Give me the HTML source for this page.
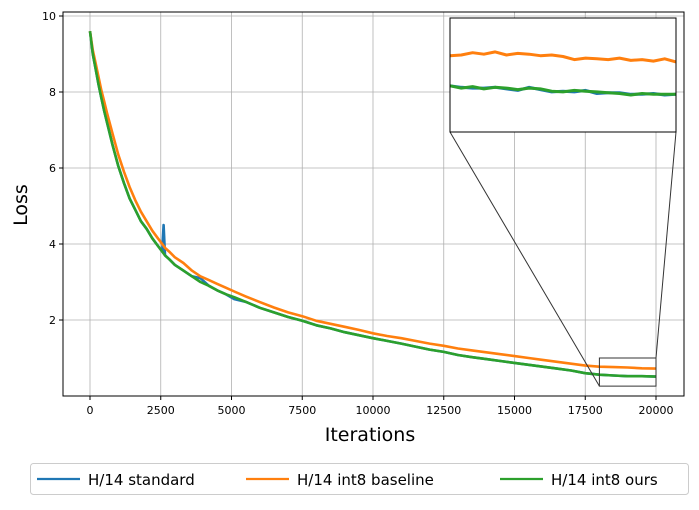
<!DOCTYPE html>
<html><head><meta charset="utf-8"><style>
body{margin:0;background:#fff;}
svg{font-family:"DejaVu Sans","Liberation Sans",sans-serif;}
</style></head><body>
<svg id="c" width="699" height="505" xmlns="http://www.w3.org/2000/svg"></svg>
<script>
const iters=[0,100,200,300,400,500,600,800,1000,1200,1400,1600,1800,2000,2200,2400,2550,2600,2650,2800,3000,3300,3600,3900,4200,4500,4800,5100,5500,6000,6500,7000,7500,8000,8500,9000,9500,10000,10500,11000,11500,12000,12500,13000,13500,14000,14500,15000,15500,16000,16500,17000,17500,18000,18500,19000,19500,20000];
const greenVals=[9.6,9.0,8.6,8.2,7.85,7.5,7.2,6.6,6.05,5.6,5.2,4.9,4.6,4.4,4.15,3.95,3.8,3.75,3.7,3.6,3.45,3.3,3.15,3.0,2.9,2.78,2.68,2.6,2.48,2.32,2.2,2.08,1.98,1.86,1.78,1.68,1.6,1.52,1.45,1.38,1.3,1.22,1.16,1.08,1.02,0.97,0.92,0.87,0.82,0.77,0.72,0.67,0.6,0.56,0.54,0.52,0.52,0.51];
const orangeVals=[9.6,9.1,8.75,8.4,8.05,7.75,7.45,6.9,6.35,5.9,5.5,5.15,4.85,4.6,4.35,4.15,4.0,3.95,3.9,3.8,3.65,3.5,3.3,3.15,3.05,2.95,2.85,2.75,2.62,2.47,2.33,2.2,2.1,1.98,1.9,1.82,1.74,1.65,1.58,1.52,1.45,1.38,1.32,1.25,1.2,1.15,1.1,1.05,1.0,0.95,0.9,0.85,0.8,0.77,0.76,0.75,0.73,0.72];
const blueVals=[9.6,9.0,8.6,8.2,7.85,7.5,7.2,6.6,6.05,5.6,5.2,4.9,4.6,4.4,4.15,3.95,3.8,4.5,3.7,3.6,3.45,3.3,3.15,3.1,2.9,2.78,2.68,2.55,2.48,2.32,2.2,2.08,1.98,1.86,1.78,1.68,1.6,1.52,1.45,1.38,1.3,1.22,1.16,1.08,1.02,0.97,0.92,0.87,0.82,0.77,0.72,0.67,0.6,0.56,0.54,0.52,0.52,0.51];
const zoomIters=[18000,18100,18200,18300,18400,18500,18600,18700,18800,18900,19000,19100,19200,19300,19400,19500,19600,19700,19800,19900,20000];
const zoomOrange=[0.755,0.76,0.775,0.765,0.78,0.76,0.77,0.765,0.755,0.76,0.75,0.73,0.74,0.735,0.73,0.74,0.725,0.73,0.72,0.735,0.715];
const zoomGreen=[0.56,0.545,0.555,0.54,0.55,0.545,0.535,0.545,0.54,0.525,0.52,0.53,0.525,0.52,0.515,0.51,0.5,0.51,0.505,0.505,0.505];
const zoomBlue=[0.56,0.55,0.545,0.545,0.55,0.54,0.53,0.55,0.535,0.52,0.525,0.52,0.53,0.51,0.515,0.515,0.505,0.505,0.51,0.5,0.505];
const xTicks=[0,2500,5000,7500,10000,12500,15000,17500,20000];
const yTicks=[2,4,6,8,10];
const svg=document.getElementById('c');
const NS='http://www.w3.org/2000/svg';
const X=v=>90+v*(566/20000), Y=v=>396-v*38;
const IX=v=>450+(v-18000)*(226/2000), IY=v=>18+(1.0-v)*(114/0.74);
function el(t,a,p){const e=document.createElementNS(NS,t);for(const k in a)e.setAttribute(k,a[k]);(p||svg).appendChild(e);return e;}
const grid=el('g',{});
xTicks.forEach(t=>{el('line',{x1:X(t),x2:X(t),y1:12,y2:396,stroke:'#b0b0b0','stroke-width':0.8},grid);});
yTicks.forEach(t=>{el('line',{x1:63,x2:684,y1:Y(t),y2:Y(t),stroke:'#b0b0b0','stroke-width':0.8},grid);});
const xa=el('g',{});
xTicks.forEach(t=>{el('line',{x1:X(t),x2:X(t),y1:396,y2:400,stroke:'#000'},xa);const tx=el('text',{x:X(t),y:414,'text-anchor':'middle','font-size':11},xa);tx.textContent=t;});
const ya=el('g',{});
yTicks.forEach(t=>{el('line',{x1:59,x2:63,y1:Y(t),y2:Y(t),stroke:'#000'},ya);const tx=el('text',{x:56,y:Y(t)+4,'text-anchor':'end','font-size':11},ya);tx.textContent=t;});
function line(xs,ys,fx,fy,c,name,p,w){const d=xs.map((x,i)=>(i?'L':'M')+fx(x).toFixed(1)+','+fy(ys[i]).toFixed(1)).join('');const e=el('path',{d:d,fill:'none',stroke:c,'stroke-width':w,'stroke-linejoin':'round'},p);}
line(iters,blueVals,X,Y,'#1f77b4','series-h14-standard',svg,2.6);
line(iters,orangeVals,X,Y,'#ff7f0e','series-h14-int8-baseline',svg,2.6);
line(iters,greenVals,X,Y,'#2ca02c','series-h14-int8-ours',svg,2.6);
const fr=el('rect',{x:63,y:12,width:621,height:384,fill:'none',stroke:'#000','stroke-width':1});
const zb=el('rect',{x:X(18000),y:Y(1.0),width:X(20000)-X(18000),height:Y(0.26)-Y(1.0),fill:'none',stroke:'#333','stroke-width':1});
el('line',{x1:450,y1:132,x2:X(18000),y2:Y(0.26),stroke:'#333','stroke-width':1});
el('line',{x1:676,y1:132,x2:X(20000),y2:Y(1.0),stroke:'#333','stroke-width':1});
const ins=el('g',{});
el('rect',{x:450,y:18,width:226,height:114,fill:'#fff'},ins);
line(zoomIters,zoomBlue,IX,IY,'#1f77b4','inset-standard',ins,3);
line(zoomIters,zoomOrange,IX,IY,'#ff7f0e','inset-baseline',ins,3);
line(zoomIters,zoomGreen,IX,IY,'#2ca02c','inset-ours',ins,3);
el('rect',{x:450,y:18,width:226,height:114,fill:'none',stroke:'#000','stroke-width':1},ins);
</script>
<svg style="position:absolute;left:0;top:0" width="699" height="505" xmlns="http://www.w3.org/2000/svg">
<text x="370" y="441" text-anchor="middle" font-size="19" font-family="DejaVu Sans,sans-serif">Iterations</text>
<text transform="translate(27,205) rotate(-90)" text-anchor="middle" font-size="19" font-family="DejaVu Sans,sans-serif">Loss</text>
<g font-family="DejaVu Sans,sans-serif" font-size="15">
<rect x="30.5" y="463.5" width="658" height="31" rx="3" fill="#fff" stroke="#ccc"/>
<g><line x1="37" x2="80" y1="479" y2="479" stroke="#1f77b4" stroke-width="2.2"/><text x="88" y="485">H/14 standard</text></g>
<g><line x1="246" x2="289" y1="479" y2="479" stroke="#ff7f0e" stroke-width="2.2"/><text x="297" y="485">H/14 int8 baseline</text></g>
<g><line x1="500" x2="543" y1="479" y2="479" stroke="#2ca02c" stroke-width="2.2"/><text x="551" y="485">H/14 int8 ours</text></g>
</g>
</svg>
</body></html>
